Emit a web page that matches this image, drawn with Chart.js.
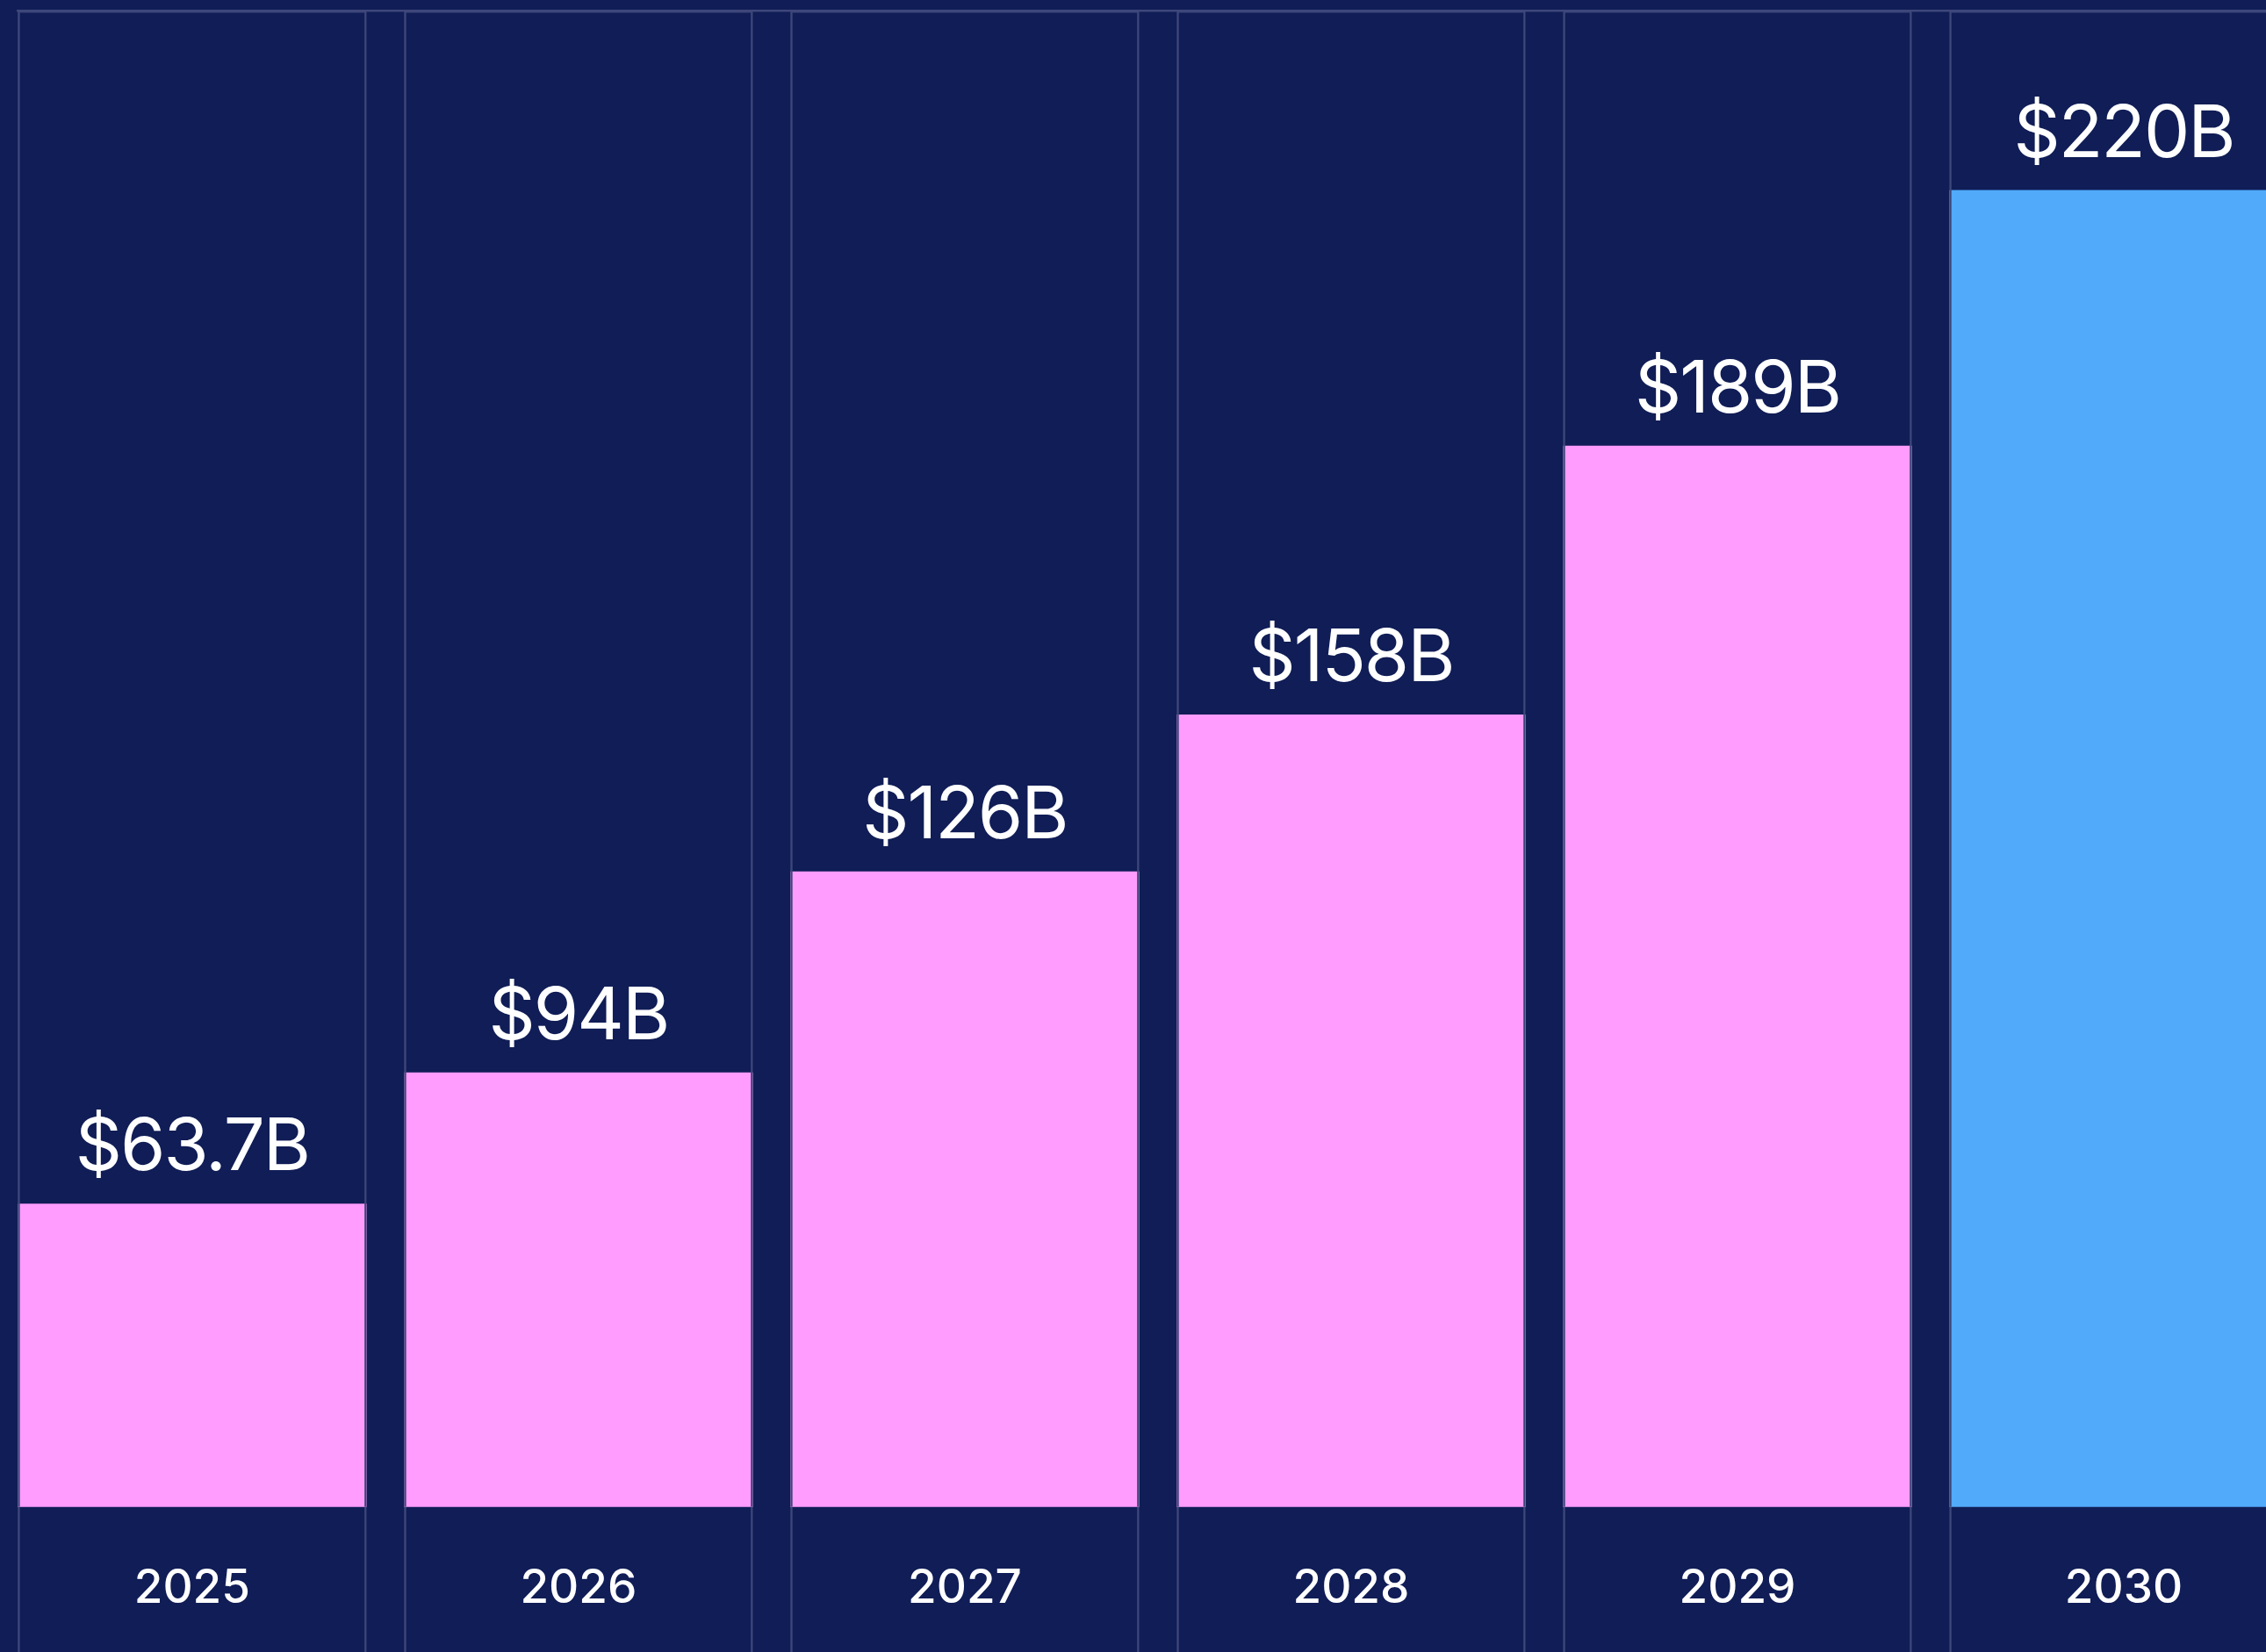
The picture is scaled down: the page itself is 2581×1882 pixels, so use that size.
<!DOCTYPE html>
<html>
<head>
<meta charset="utf-8">
<script src="https://cdn.jsdelivr.net/npm/chart.js@4.4.1/dist/chart.umd.min.js"></script>
<style>
  html, body { margin: 0; padding: 0; background: #101d56; overflow: hidden; }
  #wrap { position: relative; width: 2771px; height: 1901px; }
</style>
</head>
<body>
<div id="wrap"><canvas id="chart"></canvas></div>
<script>
// values
const years = ['2025', '2026', '2027', '2028', '2029', '2030'];
const valueLabels = ['63.7', '94', '126', '158', '189', '220'];
// drawn bar heights, in the same units as the scale ($B)
const barValues = [50.7, 72.6, 106.2, 132.4, 177.3, 220.0];
const highlightYear = '2030';

const Y_MIN = -27;
const Y_MAX = 250;
const X_MIN = 2024.548;
const X_MAX = 2030.8;

const LINE = '#3e477a';
const PINK = '#ff9cfe';
const BLUE = '#52aafa';

// labels above the bars
const valueLabelPlugin = {
  id: 'valueLabels',
  afterDatasetsDraw(chart) {
    const meta = chart.getDatasetMeta(2);
    const ctx = chart.ctx;
    ctx.save();
    ctx.fillStyle = '#ffffff';
    ctx.font = '400 83px Inter';
    ctx.letterSpacing = '-2px';
    ctx.textAlign = 'center';
    ctx.textBaseline = 'alphabetic';
    meta.data.forEach((bar, i) => {
      ctx.fillText('$' + valueLabels[i] + 'B', bar.x, bar.y - 38);
    });
    ctx.restore();
  }
};

const boxStyle = {
  backgroundColor: 'transparent',
  borderColor: LINE,
  borderWidth: 2.5,
  grouped: false,
  categoryPercentage: 1,
  barPercentage: 0.9034,
  inflateAmount: 0,
  order: 0,
};

new Chart(document.getElementById('chart'), {
  type: 'bar',
  data: {
    labels: years,
    datasets: [
      { ...boxStyle, label: 'upper', data: years.map(() => [0, Y_MAX]) },
      { ...boxStyle, label: 'lower', data: years.map(() => [Y_MIN, 0]) },
      {
        label: 'value',
        data: barValues,
        backgroundColor: ctx => years[ctx.dataIndex] === highlightYear ? BLUE : PINK,
        borderWidth: 0,
        grouped: false,
        categoryPercentage: 1,
        barPercentage: 0.9034,
        inflateAmount: 0,
        order: 1,
      },
    ],
  },
  options: {
    responsive: true,
    maintainAspectRatio: false,
    animation: false,
    events: [],
    layout: { padding: { top: 12, left: 20, right: 0, bottom: 0 } },
    plugins: {
      legend: { display: false },
      tooltip: { enabled: false },
    },
    scales: {
      x: {
        type: 'linear',
        offset: false,
        min: X_MIN,
        max: X_MAX,
        position: { y: 0 },
        grid: { display: false, drawTicks: false },
        border: { display: false },
        ticks: {
          stepSize: 1,
          includeBounds: false,
          autoSkip: false,
          maxRotation: 0,
          padding: 61,
          color: '#ffffff',
          font: { family: 'Inter', size: 53, weight: 500 },
          callback: v => String(v),
        },
      },
      xTop: {
        type: 'linear',
        position: 'top',
        offset: false,
        min: X_MIN,
        max: X_MAX,
        grid: { display: false, drawTicks: false },
        ticks: { display: false },
        border: { display: true, color: LINE, width: 2.5 },
      },
      y: {
        display: false,
        min: Y_MIN,
        max: Y_MAX,
      },
    },
  },
  plugins: [valueLabelPlugin],
});
</script>
</body>
</html>
